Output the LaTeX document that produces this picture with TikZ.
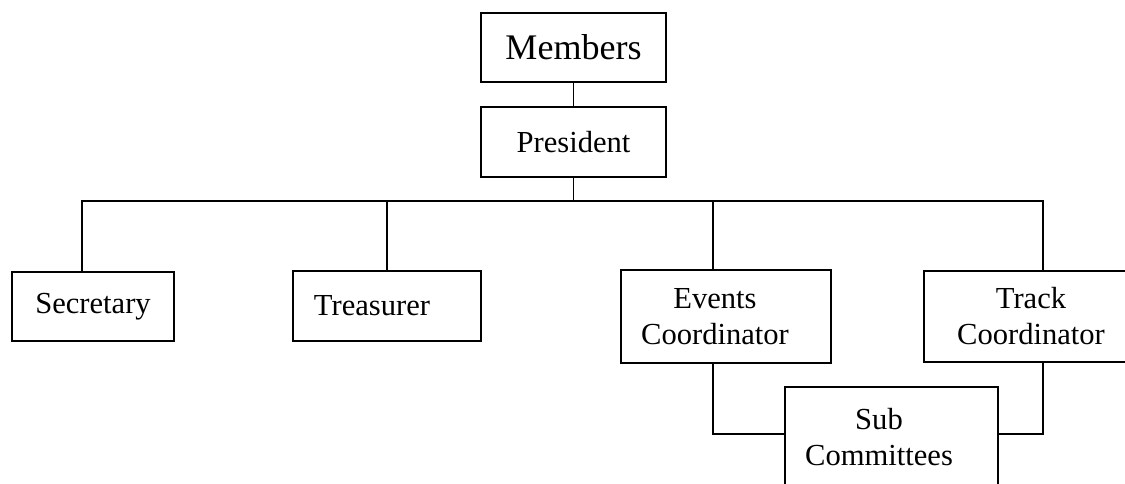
\documentclass[tikz,border=0pt]{standalone}
\usepackage{fontspec}
\setmainfont{Liberation Serif}
\usepackage{tikz}
\usetikzlibrary{calc}
\tikzset{post/.style={draw, line width=0.9pt, inner sep=0pt, align=center,
    font=\fontsize{17.4}{20.5}\selectfont},
  link/.style={line width=0.9pt}}
\newcommand{\post}[6]{\node[post, minimum width=#4cm, minimum height=#5cm, #6] (#1) at (#2) {#3};}

\begin{document}
\begin{tikzpicture}
        \useasboundingbox (0,0) rectangle (22.5,-9.66);

        % top
        \post{mem}{11.47,-0.95}{Members}{3.70}{1.38}{font=\fontsize{20.5}{24}\selectfont}
        \post{pres}{11.47,-2.84}{President}{3.70}{1.40}{}

        % row 2
        \post{sec}{1.86,-6.13}{Secretary}{3.24}{1.38}{}
        \post{tre}{7.74,-6.12}{Treasurer\hspace*{0.6cm}}{3.76}{1.40}{}
        \post{ev}{14.52,-6.33}{Events\hspace*{0.44cm}\\Coordinator\hspace*{0.44cm}}{4.20}{1.86}{}
        \post{tr}{20.62,-6.33}{Track\\Coordinator}{4.28}{1.82}{}

        % sub committees
        \post{sub}{17.83,-8.75}{Sub\hspace*{0.5cm}\\Committees\hspace*{0.5cm}}{4.26}{2.02}{}

        % lines
        \coordinate (bus) at (11.47,-4.02);
        \draw[link] (mem.south) -- (pres.north);
        \draw[link] (pres.south) -- (bus);
        \draw[link] ([xshift=-0.22cm]sec.north) |- (bus) -| ([xshift=0.24cm]tr.north);
        \draw[link] (tre.north) -- (tre.north |- bus);
        \draw[link] ([xshift=-0.26cm]ev.north) -- ([xshift=-0.26cm]ev.north |- bus);

        \draw[link] ([xshift=-0.26cm]ev.south) |- ([yshift=0.07cm]sub.west);
        \draw[link] ([xshift=0.24cm]tr.south) |- ([yshift=0.07cm]sub.east);

    \end{tikzpicture}
\end{document}
